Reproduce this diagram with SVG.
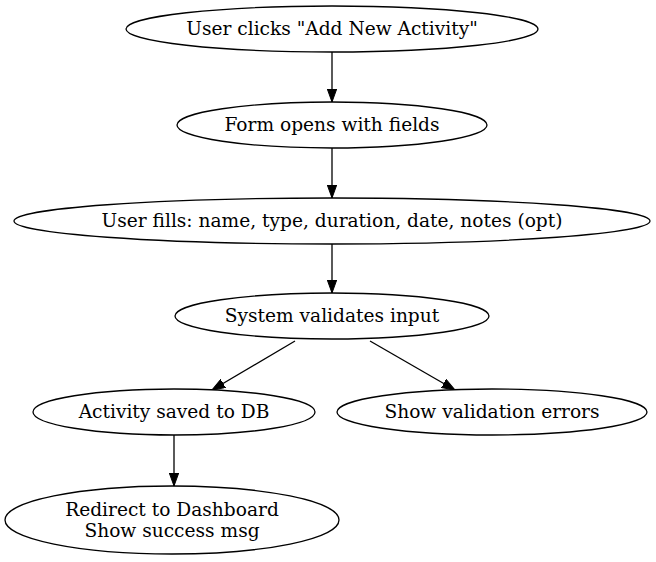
<svg xmlns="http://www.w3.org/2000/svg" width="656" height="562" viewBox="0 0 656 562">
<defs>
<marker id="ah" markerWidth="13" markerHeight="10" refX="13" refY="5" orient="auto" markerUnits="userSpaceOnUse">
<path d="M0,0.3 L13,5 L0,9.7 Z" fill="#000" stroke="#000" stroke-width="1"/>
</marker>
</defs>
<style>
ellipse{fill:#fff;stroke:#000;stroke-width:1.3}
text{font-family:"DejaVu Serif","Liberation Serif",serif;font-size:18.6px;text-anchor:middle;fill:#000}
.e{stroke:#000;stroke-width:1.3;fill:none;marker-end:url(#ah)}
</style>
<rect width="656" height="562" fill="#fff"/>
<g id="edges">
<line class="e" x1="332" y1="52" x2="332" y2="102"/>
<line class="e" x1="332" y1="148" x2="332" y2="198"/>
<line class="e" x1="332" y1="244" x2="332" y2="293"/>
<line class="e" x1="295" y1="341" x2="212" y2="390"/>
<line class="e" x1="370" y1="341" x2="455" y2="390"/>
<line class="e" x1="174" y1="435" x2="174" y2="486"/>
</g>
<g id="n1"><ellipse cx="332" cy="29" rx="206" ry="23"/><text x="332" y="35">User clicks "Add New Activity"</text></g>
<g id="n2"><ellipse cx="332" cy="125" rx="155" ry="23"/><text x="332" y="131">Form opens with fields</text></g>
<g id="n3"><ellipse cx="332" cy="221" rx="318" ry="23"/><text x="332" y="227">User fills: name, type, duration, date, notes (opt)</text></g>
<g id="n4"><ellipse cx="332" cy="316" rx="157" ry="23"/><text x="332" y="322">System validates input</text></g>
<g id="n5"><ellipse cx="174" cy="412" rx="141" ry="23"/><text x="174" y="418">Activity saved to DB</text></g>
<g id="n6"><ellipse cx="492" cy="412" rx="155" ry="23"/><text x="492" y="418">Show validation errors</text></g>
<g id="n7"><ellipse cx="172" cy="520" rx="167" ry="34"/><text x="172" y="516">Redirect to Dashboard</text><text x="172" y="537">Show success msg</text></g>
</svg>
